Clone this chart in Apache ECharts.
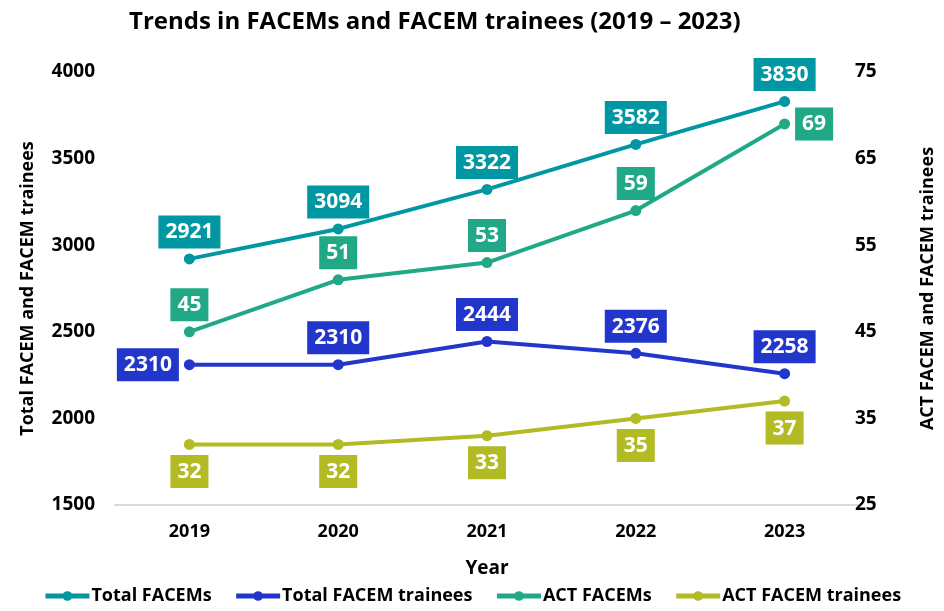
<!DOCTYPE html>
<html>
<head>
<meta charset="utf-8">
<script src="https://cdn.jsdelivr.net/npm/echarts@6/dist/echarts.min.js"></script>
<style>
  html, body { margin: 0; padding: 0; background: #fff; }
  #main { width: 944px; height: 611px; }
</style>
</head>
<body>
<div id="main"></div>
<script>
var years = ['2019', '2020', '2021', '2022', '2023'];
var totalFacems = [2921, 3094, 3322, 3582, 3830];
var totalTrainees = [2310, 2310, 2444, 2376, 2258];
var actFacems = [45, 51, 53, 59, 69];
var actTrainees = [32, 32, 33, 35, 37];

var FONT = '"Open Sans", "Noto Sans", sans-serif';

function boxLabel(color, pos) {
    return {
        show: true,
        position: pos,
        distance: 5,
        backgroundColor: color,
        color: '#fff',
        fontFamily: FONT,
        fontWeight: 'bold',
        fontSize: 21,
        lineHeight: 24,
        padding: [5, 7, 4, 7]
    };
}

function lineSeries(name, data, color, yIdx, pos, special) {
    var pts = [];
    for (var i = 0; i < data.length; i++) {
        var p = { value: data[i] };
        if (special && special[i]) p.label = { position: special[i] };
        pts.push(p);
    }
    return {
        name: name,
        type: 'line',
        yAxisIndex: yIdx,
        data: pts,
        symbol: 'circle',
        symbolSize: 11,
        lineStyle: { color: color, width: 4 },
        itemStyle: { color: color },
        label: boxLabel(color, pos),
        z: 3
    };
}

var myChart = echarts.init(document.getElementById('main'));

var option = {
    animation: false,
    title: {
        text: 'Trends in FACEMs and FACEM trainees (2019 \u2013 2023)',
        left: 124,
        top: 5,
        textStyle: { fontFamily: FONT, fontWeight: 'bold', fontSize: 24, color: '#000' }
    },
    grid: { left: 115, right: 85, top: 72, bottom: 106, outerBoundsMode: 'none', containLabel: false },
    legend: {
        bottom: 1,
        left: 'center',
        itemWidth: 44,
        itemHeight: 12,
        itemGap: 22,
        lineStyle: { width: 5 },
        textStyle: { fontFamily: FONT, fontWeight: 'bold', fontSize: 18, color: '#000', padding: [0, 0, 0, -3] },
        data: ['Total FACEMs', 'Total FACEM trainees', 'ACT FACEMs', 'ACT FACEM trainees']
    },
    xAxis: {
        type: 'category',
        data: years,
        name: 'Year',
        nameLocation: 'middle',
        nameGap: 54,
        nameTextStyle: { fontFamily: FONT, fontWeight: 'bold', fontSize: 19, color: '#000' },
        axisLine: { lineStyle: { color: '#d9d9d9', width: 2 } },
        axisTick: { show: false },
        axisLabel: { fontFamily: FONT, fontWeight: 'bold', fontSize: 18, color: '#000', margin: 18 }
    },
    yAxis: [
        {
            type: 'value',
            min: 1500,
            max: 4000,
            interval: 500,
            name: 'Total FACEM and FACEM trainees',
            nameLocation: 'middle',
            nameGap: 78,
            nameTextStyle: { fontFamily: FONT, fontWeight: 'bold', fontSize: 18, color: '#000' },
            splitLine: { show: false },
            axisLine: { show: false },
            axisTick: { show: false },
            axisLabel: { fontFamily: FONT, fontWeight: 'bold', fontSize: 19, color: '#000', margin: 20,
                formatter: function (v) { return String(v); } }
        },
        {
            type: 'value',
            min: 25,
            max: 75,
            interval: 10,
            name: 'ACT FACEM and FACEM trainees',
            nameLocation: 'middle',
            nameGap: 60,
            nameRotate: 90,
            nameTextStyle: { fontFamily: FONT, fontWeight: 'bold', fontSize: 18, color: '#000' },
            splitLine: { show: false },
            axisLine: { show: false },
            axisTick: { show: false },
            axisLabel: { fontFamily: FONT, fontWeight: 'bold', fontSize: 19, color: '#000', margin: -4 }
        }
    ],
    series: [
        lineSeries('Total FACEMs', totalFacems, '#0097a2', 0, 'top'),
        lineSeries('Total FACEM trainees', totalTrainees, '#2236cc', 0, 'top', { 0: 'left' }),
        lineSeries('ACT FACEMs', actFacems, '#20a887', 1, 'top', { 4: 'right' }),
        lineSeries('ACT FACEM trainees', actTrainees, '#b2ba24', 1, 'bottom')
    ]
};

myChart.setOption(option);
</script>
</body>
</html>
